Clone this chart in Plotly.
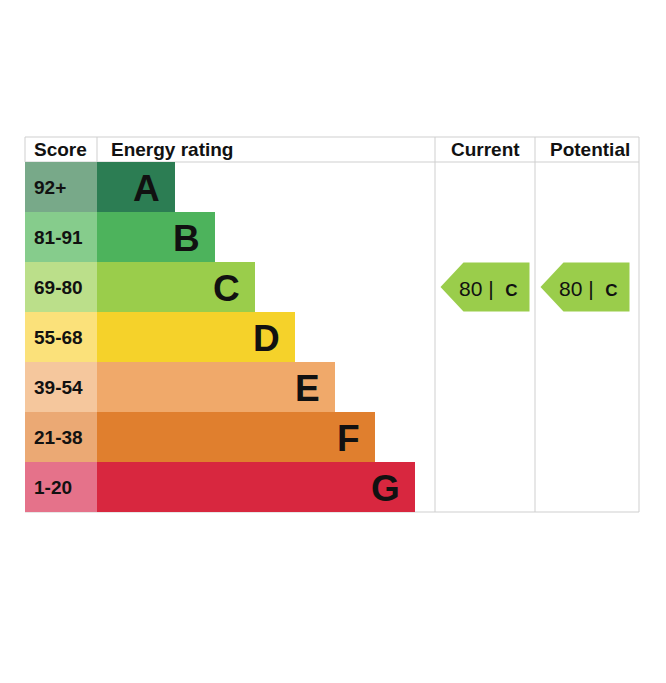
import plotly.graph_objects as go

# ---- data ----
bands = ["A", "B", "C", "D", "E", "F", "G"]
score_labels = ["92+", "81-91", "69-80", "55-68", "39-54", "21-38", "1-20"]
score_low = [92, 81, 69, 55, 39, 21, 1]
score_high = [100, 91, 80, 68, 54, 38, 20]
current_score = 80
potential_score = 80

bar_colors = ["#2c7d53", "#4db35c", "#9acd4b", "#f5d22a", "#f0a96a", "#e07f2e", "#d8273f"]
cell_colors = ["#78a989", "#86cc8c", "#bbdf8a", "#fbe17a", "#f5c79d", "#eba974", "#e5728a"]

FONT = "Liberation Sans, Arial, sans-serif"
W, H = 666, 683
OFF = 8  # page body margin
ROW0_PX, ROW_PX = 187 - OFF, 50  # pixel center of first row, row height

y_top = (0 - ROW0_PX) / ROW_PX

X_LEFT, X_SCORE_END, X_RATING_END, X_CUR_END, X_RIGHT = [v - OFF for v in (25, 97, 435, 535, 639)]
BAR_BASE_LEN, BAR_STEP = 78, 40
ARROW_W = 89

fig = go.Figure()

rows = list(range(len(bands)))

# score cells
fig.add_trace(go.Bar(
    orientation="h", y=rows, x=[X_SCORE_END - X_LEFT] * len(rows), base=X_LEFT,
    width=1.0, marker=dict(color=cell_colors, line=dict(width=0)),
    hoverinfo="skip", showlegend=False))

# rating bars
lengths = [BAR_BASE_LEN + BAR_STEP * i for i in rows]
fig.add_trace(go.Bar(
    orientation="h", y=rows, x=lengths, base=X_SCORE_END,
    width=1.0, marker=dict(color=bar_colors, line=dict(width=0)),
    hoverinfo="skip", showlegend=False))

annotations = []
for i in rows:
    annotations.append(dict(x=X_LEFT + 7, y=i, text=f"<b>{score_labels[i]}</b>", showarrow=False,
                            xanchor="left", yanchor="middle", font=dict(family=FONT, size=19, color="#111")))
    annotations.append(dict(x=X_SCORE_END + lengths[i] - 13, y=i + 0.03, text=f"<b>{bands[i]}</b>", showarrow=False,
                            xanchor="right", yanchor="middle", font=dict(family=FONT, size=37, color="#111")))

# header
hy = -0.75
annotations += [
    dict(x=X_LEFT + 7, y=hy, text="<b>Score</b>", showarrow=False, xanchor="left", yanchor="middle",
         font=dict(family=FONT, size=19, color="#111")),
    dict(x=X_SCORE_END + 12, y=hy, text="<b>Energy rating</b>", showarrow=False, xanchor="left", yanchor="middle",
         font=dict(family=FONT, size=19, color="#111")),
    dict(x=(X_RATING_END + X_CUR_END) / 2, y=hy, text="<b>Current</b>", showarrow=False, xanchor="center",
         yanchor="middle", font=dict(family=FONT, size=19, color="#111")),
    dict(x=(X_CUR_END + X_RIGHT) / 2 + 3, y=hy, text="<b>Potential</b>", showarrow=False, xanchor="center",
         yanchor="middle", font=dict(family=FONT, size=19, color="#111")),
]


def band_index(score):
    for i, (lo, hi) in enumerate(zip(score_low, score_high)):
        if lo <= score <= hi:
            return i
    return len(bands) - 1


def add_arrow(score, col_left):
    i = band_index(score)
    tip = col_left + 5.5
    right = tip + ARROW_W
    shoulder = tip + 23
    ys = [i, i - 0.49, i - 0.49, i + 0.49, i + 0.49, i]
    xs = [tip, shoulder, right, right, shoulder, tip]
    fig.add_trace(go.Scatter(x=xs, y=ys, fill="toself", fillcolor=bar_colors[i], mode="lines",
                             line=dict(width=0, color=bar_colors[i]), hoverinfo="skip", showlegend=False))
    annotations.append(dict(x=right - 10, y=i + 0.02,
                            text=f"{score} |  <span style='font-size:17px'><b>{bands[i]}</b></span>",
                            showarrow=False, xanchor="right", yanchor="middle",
                            font=dict(family=FONT, size=21, color="#111")))


add_arrow(current_score, X_RATING_END)
add_arrow(potential_score, X_CUR_END)

# grid lines
line_col = "#cfcfcf"
y_head_top, y_head_bot = -1.0, -0.5
y_bottom = len(bands) - 0.5
shapes = [
    dict(type="line", x0=X_LEFT, x1=X_RIGHT, y0=y_head_top, y1=y_head_top),
    dict(type="line", x0=X_LEFT, x1=X_RIGHT, y0=y_head_bot, y1=y_head_bot),
    dict(type="line", x0=X_LEFT, x1=X_RIGHT, y0=y_bottom, y1=y_bottom),
    dict(type="line", x0=X_LEFT, x1=X_LEFT, y0=y_head_top, y1=y_head_bot),
    dict(type="line", x0=X_SCORE_END, x1=X_SCORE_END, y0=y_head_top, y1=y_head_bot),
    dict(type="line", x0=X_RATING_END, x1=X_RATING_END, y0=y_head_top, y1=y_bottom),
    dict(type="line", x0=X_CUR_END, x1=X_CUR_END, y0=y_head_top, y1=y_bottom),
    dict(type="line", x0=X_RIGHT, x1=X_RIGHT, y0=y_head_top, y1=y_bottom),
]
for s in shapes:
    s.update(xref="x", yref="y", line=dict(color=line_col, width=1), layer="below")

fig.update_layout(
    width=W - 2 * OFF, height=H - 2 * OFF, margin=dict(l=0, r=0, t=0, b=0),
    paper_bgcolor="white", plot_bgcolor="white",
    xaxis=dict(range=[0, W - 2 * OFF], visible=False, fixedrange=True),
    yaxis=dict(range=[(H - 2 * OFF - ROW0_PX) / ROW_PX, y_top], visible=False, fixedrange=True),
    barmode="overlay", bargap=0,
    shapes=shapes, annotations=annotations,
    showlegend=False,
)

fig.write_html("out.html", config={"displayModeBar": False})
